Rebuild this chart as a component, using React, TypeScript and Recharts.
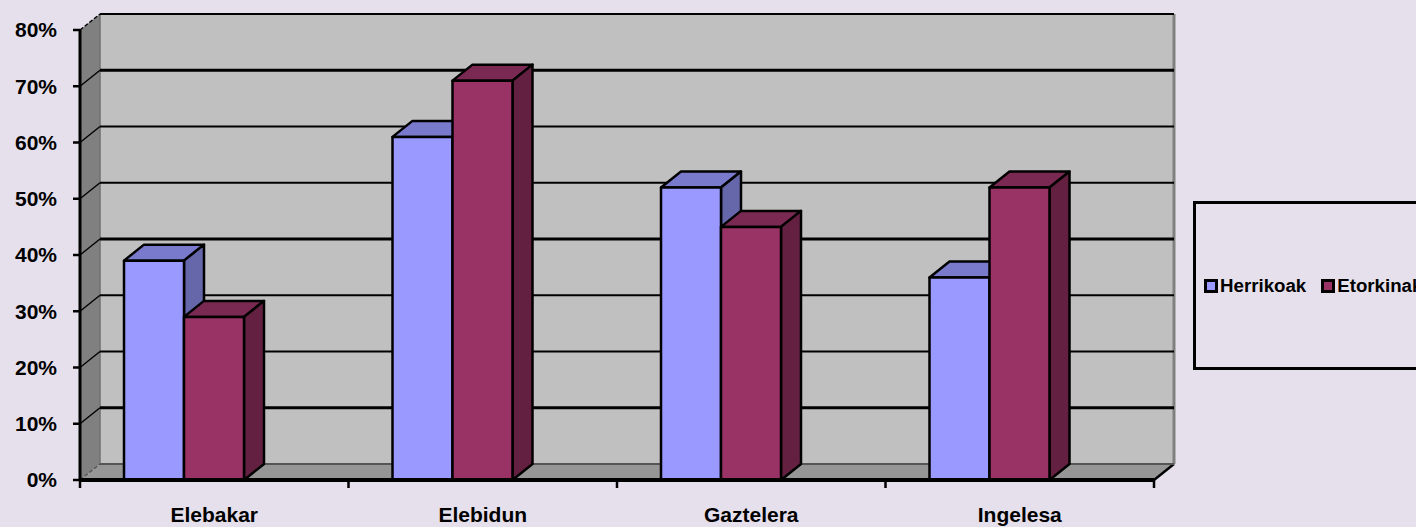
import React from 'react';
import { BarChart, Bar, XAxis, YAxis, CartesianGrid, Legend } from 'recharts';

const categories = ['Elebakar', 'Elebidun', 'Gaztelera', 'Ingelesa'];
const herrikoak = [39, 61, 52, 36];
const etorkinak = [29, 71, 45, 52];
const yTicks = [0, 10, 20, 30, 40, 50, 60, 70, 80];

const data = categories.map((name, i) => ({ name, herrikoak: herrikoak[i], etorkinak: etorkinak[i] }));

const FONT = '"Liberation Sans", Arial, sans-serif';
const BG = '#e6e0ec';
const WIDTH = 1416;
const HEIGHT = 527;
// plot box of the front plane, and how far the 3d depth pushes things back
const LEFT = 80;
const TOP = 30;
const RIGHT = 1154;
const BOTTOM = 480;
const DX = 20;
const DY = -16;
const BAR_W = 60;

// the bars sit left of the category centre, like excel does with 3d columns
function barShape(topColor: string, sideColor: string) {
  return (props: any) => {
    const { x, y, width, height, fill } = props;
    const x0 = x - BAR_W / 2;
    const x1 = x0 + width;
    const y1 = y + height;
    return (
      <g stroke="#000" strokeWidth={2.5} strokeLinejoin="round">
        <polygon points={`${x0},${y} ${x0 + DX},${y + DY} ${x1 + DX},${y + DY} ${x1},${y}`} fill={topColor} />
        <polygon points={`${x1},${y} ${x1 + DX},${y + DY} ${x1 + DX},${y1 + DY} ${x1},${y1}`} fill={sideColor} />
        <rect x={x0} y={y} width={width} height={height} fill={fill} />
      </g>
    );
  };
}

// sits under the chart svg, recharts paints its own children above plain ones anyway
function Walls() {
  return (
    <svg width={WIDTH} height={HEIGHT} style={{ position: 'absolute', left: 0, top: 0 }}>
      <rect x={LEFT + DX} y={TOP + DY} width={RIGHT - LEFT} height={BOTTOM - TOP} fill="#c0c0c0" />
      <polygon
        points={`${LEFT},${TOP} ${LEFT + DX},${TOP + DY} ${LEFT + DX},${BOTTOM + DY} ${LEFT},${BOTTOM}`}
        fill="#808080"
      />
      <polygon
        points={`${LEFT},${BOTTOM} ${LEFT + DX},${BOTTOM + DY} ${RIGHT + DX},${BOTTOM + DY} ${RIGHT},${BOTTOM}`}
        fill="#969696"
      />
      <line x1={RIGHT + DX} y1={TOP + DY} x2={RIGHT + DX} y2={BOTTOM + DY} stroke="#808080" strokeWidth={3} />
      <line x1={LEFT + DX} y1={TOP + DY} x2={LEFT + DX} y2={BOTTOM + DY} stroke="#707070" strokeWidth={1.5} />
      <line x1={RIGHT} y1={BOTTOM} x2={RIGHT + DX} y2={BOTTOM + DY} stroke="#000" strokeWidth={2.5} />
    </svg>
  );
}

function gridLine(props: any) {
  const { x1, y1, x2, y2, index } = props;
  const isTop = y1 <= TOP + 1;
  const isFloor = y1 >= BOTTOM - 1;
  const color = isFloor ? '#555' : '#000';
  const w = isFloor ? 2 : index % 3 === 1 ? 3.2 : 2.2;
  return (
    <g key={index}>
      <line x1={x1 + DX} y1={y1 + DY} x2={x2 + DX} y2={y2 + DY} stroke={color} strokeWidth={w} />
      <line
        x1={x1}
        y1={y1}
        x2={x1 + DX}
        y2={y1 + DY}
        stroke={isFloor ? '#555' : '#000'}
        strokeWidth={1.5}
        strokeDasharray={isTop || isFloor ? '4 2' : undefined}
      />
    </g>
  );
}

function CategoryTick(props: any) {
  const { x, payload, index } = props;
  const half = (RIGHT - LEFT) / categories.length / 2;
  return (
    <g>
      <line x1={x - half} y1={BOTTOM} x2={x - half} y2={BOTTOM + 8} stroke="#000" strokeWidth={2.5} />
      {index === categories.length - 1 && (
        <line x1={x + half} y1={BOTTOM} x2={x + half} y2={BOTTOM + 8} stroke="#000" strokeWidth={2.5} />
      )}
      <text x={x} y={BOTTOM + 42} textAnchor="middle" fontFamily={FONT} fontWeight="bold" fontSize={21} fill="#000">
        {payload.value}
      </text>
    </g>
  );
}

function LegendBox({ payload }: any) {
  return (
    <div style={{ display: 'flex', alignItems: 'center', height: '100%', paddingLeft: 8, whiteSpace: 'nowrap' }}>
      {(payload || []).map((item: any) => (
        <span key={item.value} style={{ display: 'flex', alignItems: 'center', marginRight: 15 }}>
          <span
            style={{ width: 8, height: 8, background: item.color, border: '3px solid #000', marginRight: 2 }}
          />
          <span style={{ fontFamily: FONT, fontWeight: 'bold', fontSize: 18.7, color: '#000' }}>{item.value}</span>
        </span>
      ))}
    </div>
  );
}

export default function App() {
  return (
    <div style={{ position: 'fixed', left: 0, top: 0, width: WIDTH, height: HEIGHT, overflow: 'hidden', background: BG }}>
      <Walls />
      <BarChart
        width={WIDTH}
        height={HEIGHT}
        data={data}
        barSize={BAR_W}
        barGap={0}
        margin={{ top: TOP, left: 0, right: WIDTH - RIGHT, bottom: 0 }}
      >
        <CartesianGrid vertical={false} horizontal={gridLine} />
        <XAxis
          dataKey="name"
          height={HEIGHT - BOTTOM}
          tick={<CategoryTick />}
          tickLine={false}
          axisLine={{ stroke: '#000', strokeWidth: 4 }}
          interval={0}
        />
        <YAxis
          domain={[0, 80]}
          ticks={yTicks}
          tickFormatter={(v) => `${v}%`}
          tickSize={7}
          tickMargin={16}
          width={LEFT}
          interval={0}
          axisLine={{ stroke: '#000', strokeWidth: 3 }}
          tickLine={{ stroke: '#000', strokeWidth: 2.5 }}
          tick={{ fill: '#000', fontFamily: FONT, fontWeight: 'bold', fontSize: 21 }}
        />
        <Legend
          layout="horizontal"
          align="center"
          verticalAlign="middle"
          itemSorter={null}
          content={<LegendBox />}
          wrapperStyle={{
            left: 1193,
            top: 201,
            width: 240,
            height: 169,
            boxSizing: 'border-box',
            border: '3px solid #000',
          }}
        />
        <Bar
          dataKey="herrikoak"
          name="Herrikoak"
          fill="#9999ff"
          shape={barShape('#7a7acc', '#6666aa')}
          isAnimationActive={false}
        />
        <Bar
          dataKey="etorkinak"
          name="Etorkinak"
          fill="#993366"
          shape={barShape('#7a2952', '#632040')}
          isAnimationActive={false}
        />
      </BarChart>
    </div>
  );
}
